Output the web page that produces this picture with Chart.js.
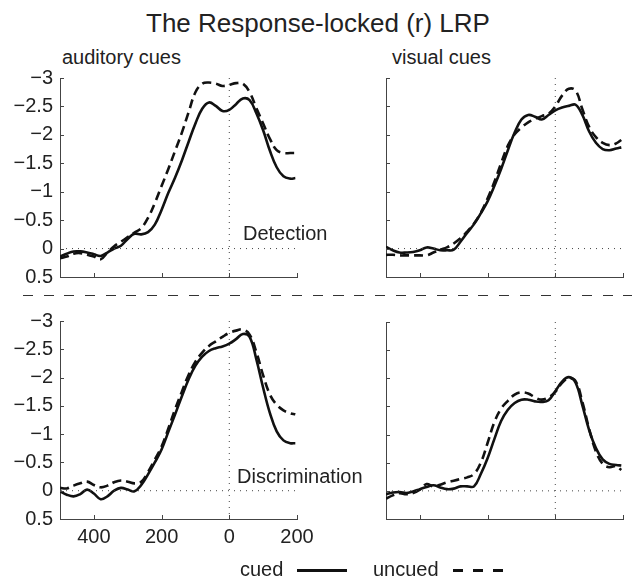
<!DOCTYPE html>
<html lang="en">
<head>
<meta charset="UTF-8">
<title>The Response-locked (r) LRP</title>
<script src="https://cdn.jsdelivr.net/npm/chart.js"></script>
<style>
    body {
        margin: 0;
        background: #fff;
        font-family: 'Liberation Sans', Arial, sans-serif;
        color: #222;
    }
    #page {
        position: relative;
        width: 632px;
        height: 582px;
        overflow: hidden;
    }
    #page canvas {
        position: absolute;
        left: 0;
        top: 0;
    }
    .lbl {
        position: absolute;
        font-size: 20px;
        line-height: 1;
        white-space: nowrap;
    }
    .title {
        position: absolute;
        left: 146px;
        top: 10px;
        font-size: 26px;
        line-height: 1;
        white-space: nowrap;
    }
    .divider {
        position: absolute;
        left: 23px;
        top: 295px;
        width: 609px;
        height: 1px;
        background: repeating-linear-gradient(90deg, #333 0 10px, transparent 10px 20.7px);
    }
    .key-solid {
        position: absolute;
        left: 297px;
        top: 569px;
        width: 50px;
        height: 3px;
        background: #111;
    }
    .key-dash {
        position: absolute;
        left: 453px;
        top: 569px;
        width: 50px;
        height: 3px;
        background: repeating-linear-gradient(90deg, #111 0 10px, transparent 10px 20px);
    }
</style>
</head>
<body>
<div id="page">
    <div class="title">The Response-locked (r) LRP</div>
    <div class="lbl" style="left:62px; top:47px;">auditory cues</div>
    <div class="lbl" style="left:392px; top:47px;">visual cues</div>
    <div class="divider"></div>

    <canvas id="audDet" width="632" height="582"></canvas>
    <canvas id="visDet" width="632" height="582"></canvas>
    <canvas id="audDis" width="632" height="582"></canvas>
    <canvas id="visDis" width="632" height="582"></canvas>

    <div class="lbl" style="left:243px; top:223px;">Detection</div>
    <div class="lbl" style="left:237px; top:466px;">Discrimination</div>

    <div class="lbl" style="left:240px; top:559px;">cued</div>
    <div class="key-solid"></div>
    <div class="lbl" style="left:373px; top:559px;">uncued</div>
    <div class="key-dash"></div>
</div>

<script>
    // time relative to the response (ms)
    const times = [-500, -480, -460, -440, -420, -400, -380, -360, -340, -320,
                   -300, -280, -260, -240, -220, -200, -180, -160, -140, -120,
                   -100, -80, -60, -40, -20, 0, 20, 40, 60, 80,
                   100, 120, 140, 160, 180, 195];

    const xTicks = [-400, -200, 0, 200];
    const yTicks = [-3, -2.5, -2, -1.5, -1, -0.5, 0, 0.5];

    // LRP amplitude (uV), detection task
    const audCuedDet = [0.14, 0.09, 0.05, 0.05, 0.07, 0.10, 0.13, 0.07, 0.00, -0.05,
                        -0.17, -0.26, -0.25, -0.29, -0.42, -0.68, -0.98, -1.25, -1.55, -1.88,
                        -2.20, -2.46, -2.57, -2.51, -2.42, -2.44, -2.54, -2.64, -2.61, -2.38,
                        -2.08, -1.72, -1.43, -1.27, -1.23, -1.24];
    const audUncuedDet = [0.17, 0.14, 0.09, 0.08, 0.11, 0.14, 0.19, 0.07, -0.04, -0.12,
                          -0.20, -0.28, -0.36, -0.54, -0.80, -1.10, -1.40, -1.72, -2.04, -2.40,
                          -2.75, -2.90, -2.92, -2.90, -2.86, -2.88, -2.91, -2.90, -2.75, -2.47,
                          -2.20, -1.93, -1.73, -1.68, -1.68, -1.68];
    const visCuedDet = [-0.03, 0.03, 0.07, 0.07, 0.06, 0.03, -0.02, 0.00, 0.03, 0.03,
                        0.02, -0.12, -0.28, -0.43, -0.62, -0.83, -1.10, -1.40, -1.73, -2.04,
                        -2.27, -2.35, -2.32, -2.27, -2.35, -2.43, -2.48, -2.51, -2.53, -2.35,
                        -2.06, -1.86, -1.75, -1.73, -1.76, -1.78];
    const visUncuedDet = [0.11, 0.11, 0.12, 0.12, 0.12, 0.12, 0.12, 0.07, 0.02, -0.02,
                          -0.09, -0.18, -0.30, -0.44, -0.63, -0.88, -1.17, -1.50, -1.81, -2.01,
                          -2.13, -2.22, -2.28, -2.33, -2.37, -2.50, -2.69, -2.81, -2.78, -2.45,
                          -2.14, -1.96, -1.86, -1.82, -1.85, -1.91];

    // discrimination task
    const audCuedDis = [0.01, 0.07, 0.10, 0.06, -0.02, 0.05, 0.15, 0.10, 0.00, -0.05,
                        -0.02, 0.01, -0.10, -0.29, -0.50, -0.73, -1.04, -1.35, -1.67, -1.97,
                        -2.21, -2.37, -2.47, -2.52, -2.55, -2.60, -2.68, -2.77, -2.72, -2.32,
                        -1.82, -1.37, -1.05, -0.89, -0.84, -0.84];
    const audUncuedDis = [-0.05, -0.04, -0.09, -0.13, -0.16, -0.10, -0.06, -0.09, -0.15, -0.18,
                          -0.16, -0.13, -0.16, -0.33, -0.55, -0.78, -1.10, -1.44, -1.75, -2.05,
                          -2.28, -2.44, -2.56, -2.64, -2.72, -2.79, -2.83, -2.85, -2.76, -2.45,
                          -2.04, -1.70, -1.52, -1.42, -1.37, -1.35];
    const visCuedDis = [0.06, 0.03, 0.02, 0.04, 0.01, -0.03, -0.07, -0.10, -0.06, -0.03,
                        -0.04, -0.08, -0.08, -0.08, -0.30, -0.58, -0.92, -1.24, -1.44, -1.56,
                        -1.62, -1.62, -1.59, -1.58, -1.61, -1.77, -1.94, -2.02, -1.92, -1.52,
                        -1.08, -0.76, -0.56, -0.48, -0.46, -0.45];
    const visUncuedDis = [0.14, 0.08, 0.04, 0.06, 0.04, -0.02, -0.12, -0.08, -0.11, -0.15,
                          -0.18, -0.21, -0.24, -0.30, -0.50, -0.85, -1.22, -1.46, -1.60, -1.71,
                          -1.75, -1.73, -1.66, -1.62, -1.66, -1.76, -1.92, -2.00, -1.95, -1.58,
                          -1.10, -0.70, -0.48, -0.42, -0.44, -0.37];

    const FONT = { family: "'Liberation Sans', Arial, sans-serif", size: 20 };
    const AXIS = '#444';

    // matlab style ticks pointing into the plot
    const innerTicks = {
        id: 'innerTicks',
        afterDraw(chart) {
            const { ctx, chartArea: a, scales: { x, y } } = chart;
            ctx.save();
            ctx.strokeStyle = AXIS;
            ctx.lineWidth = 1;
            ctx.beginPath();
            xTicks.forEach(v => {
                const px = Math.round(x.getPixelForValue(v)) + 0.5;
                ctx.moveTo(px, a.bottom);
                ctx.lineTo(px, a.bottom - 4);
            });
            yTicks.forEach(v => {
                const py = Math.round(y.getPixelForValue(v)) + 0.5;
                ctx.moveTo(a.left, py);
                ctx.lineTo(a.left + 4, py);
            });
            ctx.stroke();
            ctx.restore();
        }
    };

    function toPoints(vals) {
        return times.map((t, i) => ({ x: t, y: vals[i] }));
    }

    function makePanel(id, cued, uncued, area, showX, showY) {
        const dotted = { borderColor: '#444', borderWidth: 1, borderDash: [1, 5], pointRadius: 0, tension: 0 };
        new Chart(document.getElementById(id), {
            type: 'line',
            data: {
                datasets: [
                    Object.assign({ data: [{ x: -500, y: 0 }, { x: 200, y: 0 }] }, dotted),
                    Object.assign({ data: [{ x: 0, y: -3 }, { x: 0, y: 0.5 }] }, dotted),
                    {
                        label: 'uncued',
                        data: toPoints(uncued),
                        borderColor: '#111',
                        borderWidth: 2.6,
                        borderDash: [9, 5],
                        pointRadius: 0,
                        tension: 0.4
                    },
                    {
                        label: 'cued',
                        data: toPoints(cued),
                        borderColor: '#111',
                        borderWidth: 2.6,
                        pointRadius: 0,
                        tension: 0.4
                    }
                ]
            },
            options: {
                responsive: false,
                animation: false,
                devicePixelRatio: 1,
                layout: {
                    padding: {
                        left: area.left - 50,
                        right: 632 - area.right,
                        top: area.top,
                        bottom: 582 - area.bottom - 28
                    }
                },
                plugins: {
                    legend: { display: false },
                    tooltip: { enabled: false }
                },
                scales: {
                    x: {
                        type: 'linear',
                        min: -500,
                        max: 200,
                        afterBuildTicks: s => { s.ticks = xTicks.map(v => ({ value: v })); },
                        afterFit: s => { s.height = 28; },
                        grid: { display: false, drawTicks: false },
                        border: { display: true, color: AXIS, width: 1 },
                        ticks: {
                            display: showX,
                            color: '#222',
                            font: FONT,
                            padding: 6,
                            maxRotation: 0,
                            autoSkip: false,
                            callback: v => String(Math.abs(v))
                        }
                    },
                    y: {
                        type: 'linear',
                        reverse: true,
                        min: -3,
                        max: 0.5,
                        afterBuildTicks: s => { s.ticks = yTicks.map(v => ({ value: v })); },
                        afterFit: s => { s.width = 50; },
                        grid: { display: false, drawTicks: false },
                        border: { display: true, color: AXIS, width: 1 },
                        ticks: {
                            display: showY,
                            color: '#222',
                            font: FONT,
                            padding: 7,
                            autoSkip: false,
                            callback: v => v < 0 ? '\u2212' + Math.abs(v) : String(v)
                        }
                    }
                }
            },
            plugins: [innerTicks]
        });
    }

    makePanel('audDet', audCuedDet, audUncuedDet, { left: 60, right: 297, top: 78, bottom: 277 }, false, true);
    makePanel('visDet', visCuedDet, visUncuedDet, { left: 386, right: 623, top: 78, bottom: 277 }, false, false);
    makePanel('audDis', audCuedDis, audUncuedDis, { left: 60, right: 297, top: 321, bottom: 519 }, true, true);
    makePanel('visDis', visCuedDis, visUncuedDis, { left: 386, right: 623, top: 322, bottom: 519 }, false, false);
</script>
</body>
</html>
